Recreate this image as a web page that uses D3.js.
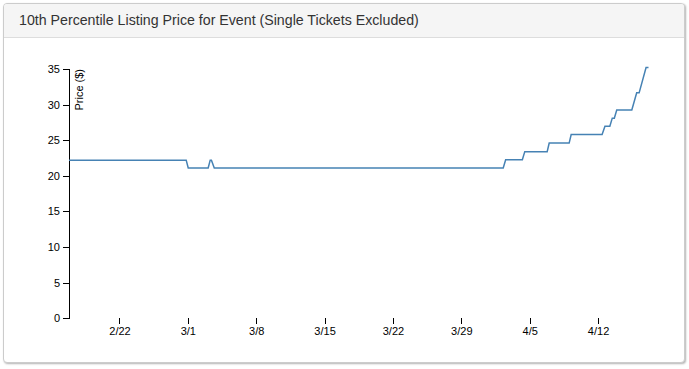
<!DOCTYPE html>
<html>
<head>
<meta charset="utf-8">
<script src="https://cdn.jsdelivr.net/npm/d3@7"></script>
<style>
  body { margin: 0; background: #fff; font-family: "Liberation Sans", Arial, sans-serif; }
  .panel {
    position: absolute; left: 3px; top: 3px; width: 680px; height: 358px;
    border: 1px solid #ccc; border-radius: 4px;
    box-shadow: 1px 1px 2px rgba(0,0,0,.3);
    background: #fff;
  }
  .panel-heading {
    height: 33px; background: #f5f5f5; border-bottom: 1px solid #ddd;
    border-radius: 3px 3px 0 0;
    padding: 0 15px; line-height: 33px; font-size: 14.2px; color: #333;
  }
  #chart { position: absolute; left: 0; top: 0; }
  .axis text { font-size: 11px; font-family: "Liberation Sans", Arial, sans-serif; fill: #000; }
  .axis path, .axis line { fill: none; stroke: #000; shape-rendering: crispEdges; }
  .line { fill: none; stroke: steelblue; stroke-width: 1.5px; }
</style>
</head>
<body>
<div class="panel">
  <div class="panel-heading">10th Percentile Listing Price for Event (Single Tickets Excluded)</div>
</div>
<div id="chart"></div>
<script>
// listing price snapshots (2015)
const times = [
  "2015-02-16T20:00", "2015-02-28T20:00", "2015-03-01T01:00",
  "2015-03-03T02:00", "2015-03-03T07:00", "2015-03-03T10:00", "2015-03-03T17:00",
  "2015-04-02T07:00", "2015-04-02T13:00",
  "2015-04-04T06:00", "2015-04-04T12:00",
  "2015-04-06T19:00", "2015-04-07T00:00",
  "2015-04-09T01:00", "2015-04-09T06:00",
  "2015-04-12T10:00", "2015-04-12T17:00",
  "2015-04-13T05:00", "2015-04-13T11:00",
  "2015-04-13T16:00", "2015-04-13T22:00",
  "2015-04-15T11:00", "2015-04-15T23:00",
  "2015-04-16T05:00", "2015-04-16T22:00",
  "2015-04-17T04:00"
];
const prices = [
  22.2, 22.2, 21.1,
  21.1, 22.2, 22.2, 21.1,
  21.1, 22.25,
  22.25, 23.4,
  23.4, 24.6,
  24.6, 25.8,
  25.8, 26.95,
  26.95, 28.1,
  28.1, 29.25,
  29.25, 31.65,
  31.65, 35.2,
  35.2
];
const yTicks = [0, 5, 10, 15, 20, 25, 30, 35];

const margin = {top: 69, right: 40, bottom: 51, left: 69};
const width = 579.5;
const height = 249.3;

const parseTime = d3.timeParse("%Y-%m-%dT%H:%M");
const data = times.map((t, i) => ({date: parseTime(t), price: prices[i]}));

const svg = d3.select("#chart").append("svg")
    .attr("width", 689)
    .attr("height", 369)
  .append("g")
    .attr("transform", "translate(" + margin.left + "," + margin.top + ")");

const x = d3.scaleTime()
    .domain(d3.extent(data, d => d.date))
    .range([0, width]);

const y = d3.scaleLinear()
    .domain([0, d3.max(yTicks)])
    .range([height, 0]);

svg.append("g")
    .attr("class", "x axis")
    .attr("transform", "translate(0," + height + ")")
    .call(d3.axisBottom(x).ticks(d3.timeWeek.every(1)).tickFormat(d3.timeFormat("%-m/%-d")))
    .call(g => g.select(".domain").remove());

svg.append("g")
    .attr("class", "y axis")
    .call(d3.axisLeft(y).tickValues(yTicks))
  .append("text")
    .attr("transform", "rotate(-90)")
    .attr("y", 6)
    .attr("dy", ".71em")
    .style("text-anchor", "end")
    .text("Price ($)");

const line = d3.line()
    .x(d => x(d.date))
    .y(d => y(d.price));

svg.append("path")
    .datum(data)
    .attr("class", "line")
    .attr("d", line);
</script>
</body>
</html>
